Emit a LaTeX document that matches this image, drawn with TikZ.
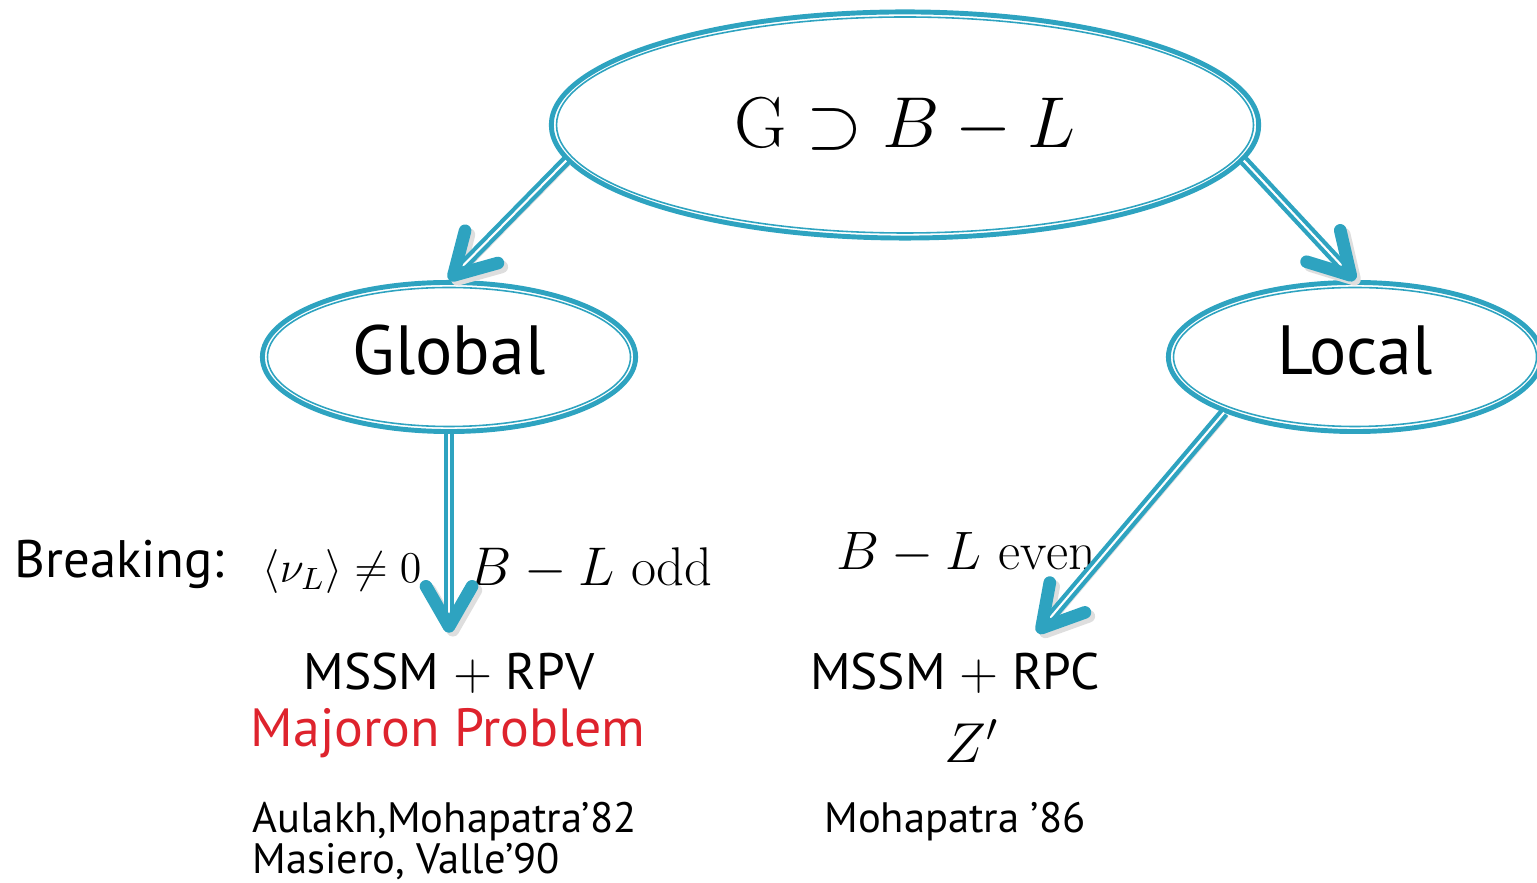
\RequirePackage{fix-cm}
\documentclass[tikz,border=0pt]{standalone}
\usepackage{amsmath}
\usepackage{amssymb}
\usepackage{fontspec}
\usepackage{tikz}
\usetikzlibrary{arrows.meta}
\usetikzlibrary{shapes.geometric}
\usetikzlibrary{calc}
\newfontfamily\slidefont[Ligatures=TeX]{PT Sans}
\definecolor{bubbleblue}{RGB}{46,163,192}
\definecolor{slidered}{RGB}{222,35,45}

\begin{document}
\begin{tikzpicture}[x=0.01cm,y=-0.01cm,
		every node/.style={inner sep=0pt},
		bubble/.style={ellipse,draw=bubbleblue,line width=1.4pt},
		rim/.style={draw=bubbleblue,line width=0.45pt},
		link/.style={draw=bubbleblue,double=white,double distance=0.6pt,line width=1.2pt,
			-{Straight Barb[length=0.4cm,width=0.46cm,line width=3.6pt,round]},
			preaction={draw=black!13,transform canvas={shift={(1.1pt,-1.1pt)}}}},
		big/.style={font=\slidefont\fontsize{19.8}{24}\selectfont,text depth=4pt},
		mid/.style={font=\slidefont\fontsize{14.6}{18}\selectfont},
		small/.style={font=\slidefont\fontsize{12.1}{14}\selectfont}]
			\useasboundingbox (0,0) rectangle (1537,883);
			\node[bubble,minimum width=7.07cm,minimum height=2.26cm,font=\fontsize{20.5}{24}\selectfont] (top) at (905,125) {$\mathrm{G}\supset B-L$};
			\node[bubble,big,minimum width=3.73cm,minimum height=1.49cm] (glob) at (449,357) {Global};
			\node[bubble,big,minimum width=3.73cm,minimum height=1.49cm] (loc) at (1355,357) {Local};
			\foreach \n/\a/\b in {top/348.5/108, glob/181.5/69.5, loc/181.5/69.5} {
				\draw[rim] (\n.center) ellipse [x radius=\a, y radius=\b];
			}
			\node[mid,anchor=base west,font=\slidefont\fontsize{15}{18}\selectfont] (brk) at (14,578) {Breaking:};
			\node[anchor=base west,font=\fontsize{12.5}{15}\selectfont] (vev) at (262,583) {$\langle\nu_L\rangle\neq0$};
			\node[anchor=base west,font=\fontsize{15.5}{18}\selectfont] (odd) at (468,586) {$B-L\ \mathrm{odd}$};
			\node[anchor=base west,font=\fontsize{15.4}{18}\selectfont] (even) at (836,570) {$B-L\ \mathrm{even}$};
			\node[mid,anchor=base] (rpv) at (449,690) {MSSM $+$ RPV};
			\node[mid,anchor=base,text=slidered,font=\slidefont\fontsize{15.3}{18}\selectfont] (maj) at (448,747) {Majoron Problem};
			\node[small,anchor=base west] (ref1) at (252,832) {Aulakh,Mohapatra’82};
			\node[small,anchor=base west] (ref2) at (252,873) {Masiero, Valle’90};
			\node[mid,anchor=base] (rpc) at (955,690) {MSSM $+$ RPC};
			\node[anchor=base,font=\fontsize{16}{19}\selectfont] (zp) at (972,762) {$Z'$};
			\node[small,anchor=base] (ref3) at (955,832) {Mohapatra ’86};
			\draw[link] (top.186) -- (glob.north);
			\draw[link] (top.354) -- (loc.north);
			\draw[link,shorten >=0.2cm] (glob.south) -- (rpv.north);
			\draw[link,shorten >=0.26cm] (loc.203) -- ($(rpc.north)!0.45!(rpc.north east)$);
		\end{tikzpicture}
\end{document}
